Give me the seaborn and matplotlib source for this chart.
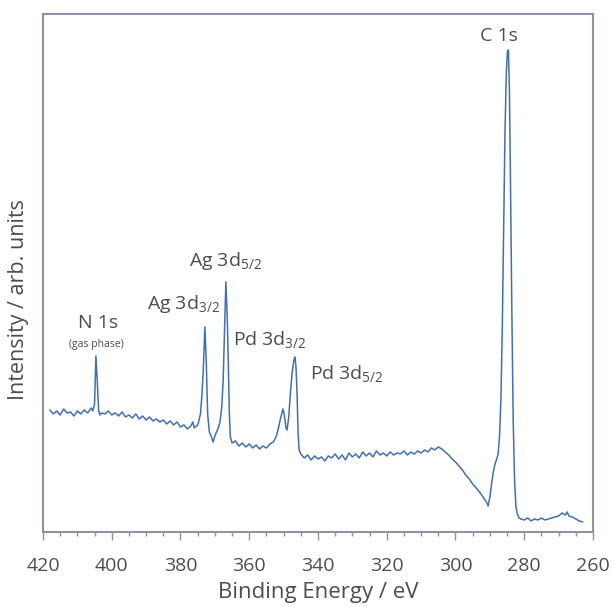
import matplotlib
matplotlib.use("Agg")
import matplotlib.pyplot as plt
from matplotlib.ticker import MultipleLocator
import seaborn as sns
import pandas as pd

# spectrum (binding energy in eV, intensity in arb. units)
ENERGY = [
    418, 417, 416, 415, 414, 413, 412, 411, 410, 409, 408, 407, 406, 405.5, 405,
    404.6, 404.2, 403.8, 403.4, 403, 402, 401, 400, 399, 398, 397, 396, 395, 394,
    393, 392, 391, 390, 389, 388, 387, 386, 385, 384, 383, 382, 381, 380, 379, 378,
    377, 376.4, 376, 375, 374.6, 374.2, 373.8, 373.4, 372.9, 372.5, 372.1, 371.6,
    371, 370.5, 370, 369.5, 369, 368.5, 368, 367.6, 367.2, 366.8, 366.4, 366.1,
    365.8, 365.5, 365, 364, 363, 362, 361, 360, 359, 358, 357, 356, 355, 354, 353,
    352.5, 352, 351.5, 351, 350.5, 350.2, 349.8, 349.3, 349, 348.5, 348, 347.5, 347,
    346.7, 346.4, 346.1, 345.8, 345.5, 345, 344, 343, 342, 341, 340, 339, 338, 337,
    336, 335, 334, 333, 332, 331, 330, 329, 328, 327, 326, 325, 324, 323, 322, 321,
    320, 319, 318, 317, 316, 315, 314, 313, 312, 311, 310, 309, 308, 307, 306, 305,
    304, 303, 302, 301, 300, 299, 298, 297, 296, 295, 294, 293, 292, 291, 290.5,
    290, 289.5, 289, 288.5, 288, 287.6, 287.2, 286.8, 286.4, 286, 285.6, 285.2,
    284.9, 284.6, 284.3, 284, 283.6, 283.2, 282.8, 282.4, 282, 281.5, 281, 280, 279,
    278, 277, 276, 275, 274, 273, 272, 271, 270, 269, 268, 267.5, 267, 266, 265,
    264, 263,
]
INTENSITY = [
    122, 118, 121, 117, 123, 119, 120, 116, 121, 118, 122, 119, 124, 121, 128,
    176, 150, 121, 117, 119, 118, 121, 117, 119, 116, 120, 115, 117, 114,
    118, 113, 116, 112, 115, 111, 113, 110, 112, 108, 111, 107, 110, 105, 107, 103,
    106, 110, 104, 107, 112, 118, 135, 160, 205, 170, 118, 100,
    95, 90, 96, 100, 104, 110, 125, 150, 200, 250, 215, 170,
    120, 95, 89, 91, 86, 89, 85, 88, 84, 87, 83, 86, 84, 88, 90,
    93, 97, 104, 112, 119, 123, 117, 104, 102, 115, 140, 160, 172,
    175, 165, 140, 100, 82, 78, 74, 77, 72, 76, 73, 75, 71, 76,
    74, 78, 73, 77, 72, 79, 75, 78, 74, 80, 76, 79, 75, 81, 77, 79,
    76, 80, 77, 79, 78, 81, 77, 80, 78, 81, 79, 82, 80, 84, 82, 85,
    83, 80, 77, 73, 70, 66, 62, 57, 53, 48, 44, 40, 35, 30, 26,
    35, 48, 60, 68, 73, 78, 95, 130, 200, 300, 400, 460,
    480, 482, 440, 350, 220, 110, 50, 25, 18, 14, 13, 12, 14,
    11, 13, 12, 14, 12, 13, 14, 15, 16, 19, 17, 20, 16, 15, 13,
    11, 10,
]

# peak labels and where they sit (energy, intensity)
LABELS = ["C 1s", "Ag 3d$_{5/2}$", "Ag 3d$_{3/2}$", "N 1s", "(gas phase)",
          "Pd 3d$_{3/2}$", "Pd 3d$_{5/2}$"]
LABEL_E = [287.3, 366.8, 379.1, 404.1, 404.4, 354.0, 331.7]
LABEL_I = [496, 271, 228, 209, 187, 192, 158]
LABEL_SIZE = [14, 14, 14, 14, 7.5, 14, 14]

LINE_COLOR = "#416fb8"
FRAME_COLOR = "#8d93a6"
TEXT_COLOR = "#4d4d4d"

sns.set_style("white")
plt.rcParams['font.family'] = ['Open Sans', 'DejaVu Sans']
plt.rcParams['mathtext.fontset'] = 'custom'
plt.rcParams['mathtext.rm'] = 'Open Sans'
plt.rcParams['mathtext.it'] = 'Open Sans:italic'
plt.rcParams['mathtext.default'] = 'regular'

df = pd.DataFrame({"energy": ENERGY, "intensity": INTENSITY})

fig = plt.figure(figsize=(6.15, 6.07), dpi=100)
ax = fig.add_axes([0.0699, 0.1236, 0.8943, 0.8534])

sns.lineplot(data=df, x="energy", y="intensity", ax=ax, color=LINE_COLOR,
             linewidth=1.1, sort=False, estimator=None)

ax.set_xlim(420, 260)
ax.set_ylim(0, 518)
ax.xaxis.set_major_locator(MultipleLocator(20))
ax.xaxis.set_minor_locator(MultipleLocator(5))
ax.set_yticks([])
ax.tick_params(axis='x', which='major', direction='out', length=6, width=1,
               color=FRAME_COLOR, labelsize=14, labelcolor=TEXT_COLOR, pad=12)
ax.tick_params(axis='x', which='minor', direction='out', length=3, width=1,
               color=FRAME_COLOR)
ax.tick_params(axis='x', which='both', bottom=True)

for side in ax.spines.values():
    side.set_color(FRAME_COLOR)
    side.set_linewidth(1.5)

ax.set_xlabel("Binding Energy / eV", fontsize=16, color=TEXT_COLOR, labelpad=5)
ax.set_ylabel("Intensity / arb. units", fontsize=15.5, color=TEXT_COLOR)
ax.yaxis.set_label_coords(-0.026, 0.448)

for txt, e, i, s in zip(LABELS, LABEL_E, LABEL_I, LABEL_SIZE):
    ax.text(e, i, txt, ha='center', va='center', fontsize=s, color=TEXT_COLOR)

fig.savefig("out.png", dpi=100, facecolor='white')
